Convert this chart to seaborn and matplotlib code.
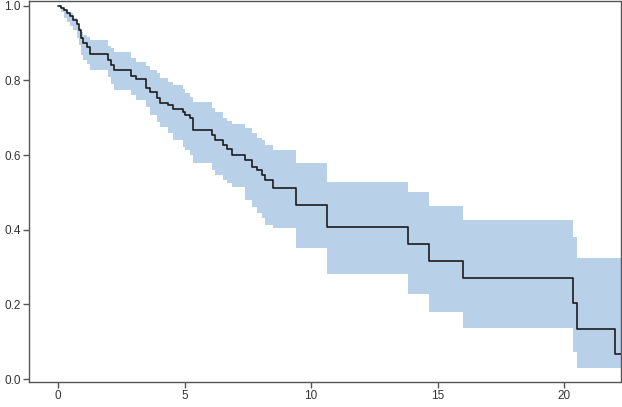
import numpy as np
import pandas as pd
import matplotlib
matplotlib.use("Agg")
import matplotlib.pyplot as plt
import seaborn as sns

## Survival data
time = [0, 0.12, 0.24, 0.36, 0.47, 0.59, 0.75, 0.83, 0.91, 0.99,
        1.15, 1.26, 1.98, 2.09, 2.21, 2.89, 3.08, 3.48, 3.64, 3.91,
        4.03, 4.35, 4.55, 4.94, 5.02, 5.22, 5.34, 6.09, 6.21, 6.52,
        6.68, 6.88, 7.39, 7.67, 7.87, 8.06, 8.18, 8.50, 9.41, 10.63,
        13.83, 14.66, 16.01, 20.36, 20.51, 22.02, 22.25]
surv = [1.000, 0.995, 0.989, 0.981, 0.973, 0.962, 0.952, 0.936, 0.914, 0.901,
        0.890, 0.871, 0.855, 0.842, 0.828, 0.812, 0.804, 0.780, 0.769, 0.753,
        0.740, 0.735, 0.724, 0.716, 0.708, 0.700, 0.668, 0.654, 0.641, 0.627,
        0.617, 0.601, 0.587, 0.568, 0.560, 0.547, 0.534, 0.512, 0.466, 0.408,
        0.362, 0.316, 0.271, 0.204, 0.134, 0.067, 0.067]
upper = [1.000, 0.992, 0.989, 0.984, 0.981, 0.968, 0.952, 0.941, 0.930, 0.922,
         0.917, 0.909, 0.893, 0.887, 0.877, 0.861, 0.850, 0.839, 0.828, 0.820,
         0.807, 0.796, 0.788, 0.777, 0.767, 0.756, 0.743, 0.727, 0.716, 0.700,
         0.692, 0.684, 0.673, 0.660, 0.646, 0.641, 0.627, 0.614, 0.579, 0.528,
         0.501, 0.464, 0.426, 0.381, 0.324, 0.324, 0.324]
lower = [1.000, 0.984, 0.968, 0.957, 0.946, 0.936, 0.914, 0.895, 0.869, 0.855,
         0.845, 0.828, 0.810, 0.791, 0.775, 0.761, 0.748, 0.729, 0.708, 0.689,
         0.676, 0.660, 0.641, 0.622, 0.614, 0.601, 0.579, 0.560, 0.547, 0.534,
         0.525, 0.515, 0.480, 0.461, 0.445, 0.432, 0.413, 0.405, 0.351, 0.281,
         0.228, 0.180, 0.137, 0.072, 0.029, 0.029, 0.029]

xticks = [0, 5, 10, 15, 20]
yticks = [0.0, 0.2, 0.4, 0.6, 0.8, 1.0]

df = pd.DataFrame({"time": time, "surv": surv, "lower": lower, "upper": upper})

## Style
sns.set_style("ticks")
plt.rcParams["font.family"] = ["Liberation Sans", "DejaVu Sans"]

fig = plt.figure(figsize=(6.22, 4.07), dpi=100)
ax = fig.add_axes([29 / 622, 25 / 407, 592 / 622, 381 / 407])

## Confidence band + KM step line
ax.fill_between(df["time"], df["lower"], df["upper"], step="post",
                color="#b9d0e9", linewidth=0)
sns.lineplot(data=df, x="time", y="surv", drawstyle="steps-post",
             color="#1c1c1c", linewidth=1.2, ax=ax)

ax.set_xlim(-1.15, 22.25)
ax.set_ylim(-0.008, 1.013)
ax.set_xticks(xticks)
ax.set_yticks(yticks)
ax.set_yticklabels([f"{v:.1f}" for v in yticks])
ax.set_xlabel("")
ax.set_ylabel("")

for s in ax.spines.values():
    s.set_color("#555555")
    s.set_linewidth(1.0)
ax.tick_params(direction="out", length=4, width=1, color="#555555",
               labelsize=8.5, labelcolor="#333333", pad=2)

plt.savefig("out.png", dpi=100)
